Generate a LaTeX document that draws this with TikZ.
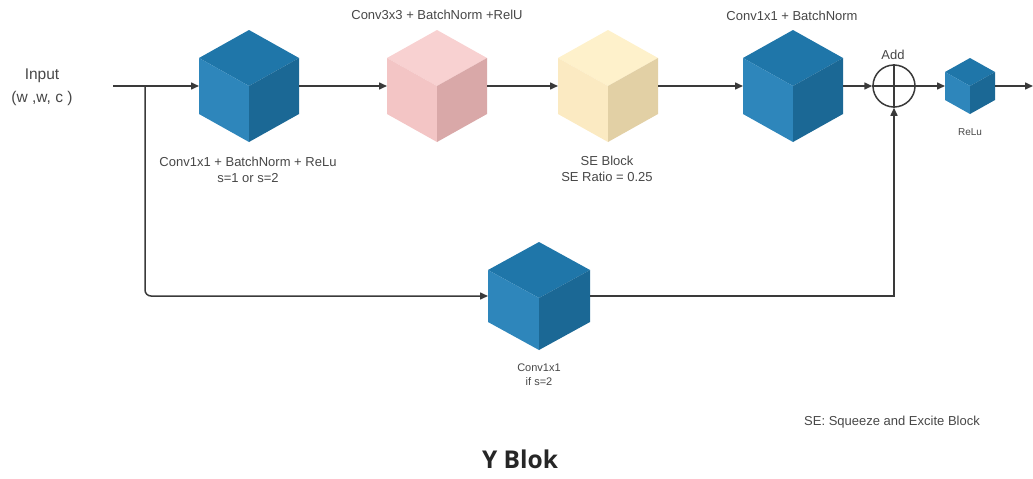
\documentclass[tikz,border=0pt]{standalone}
\usepackage{fontspec}
\setmainfont{Liberation Sans}
\newfontfamily\titlefont{Open Sans}
\usetikzlibrary{arrows.meta}

\definecolor{blueT}{HTML}{1F76A9}
\definecolor{blueL}{HTML}{2E86BB}
\definecolor{blueR}{HTML}{1B6895}
\definecolor{pinkT}{HTML}{F8D1D1}
\definecolor{pinkL}{HTML}{F3C5C5}
\definecolor{pinkR}{HTML}{D9A8A8}
\definecolor{yelT}{HTML}{FEF1CB}
\definecolor{yelL}{HTML}{FBEAC2}
\definecolor{yelR}{HTML}{E2D0A5}
\definecolor{wire}{HTML}{3A3A3A}
\definecolor{txt}{HTML}{474747}

% isometric cube: name, centre x, centre y, half width, half height, top-face half height, colour prefix
\newcommand\isocube[7]{%
  \node[cubebox, minimum width=#4*2pt, minimum height=#5*2pt] (#1) at (#2,#3) {};
  \fill[#7T] (#2,#3-#5) -- (#2+#4,#3-#5+#6) -- (#2,#3-#5+2*#6) -- (#2-#4,#3-#5+#6) -- cycle;
  \fill[#7L] (#2-#4,#3-#5+#6) -- (#2,#3-#5+2*#6) -- (#2,#3+#5) -- (#2-#4,#3+#5-#6) -- cycle;
  \fill[#7R] (#2+#4,#3-#5+#6) -- (#2,#3-#5+2*#6) -- (#2,#3+#5) -- (#2+#4,#3+#5-#6) -- cycle;
}

\tikzset{
  cubebox/.style={rectangle, inner sep=0pt, outer sep=0pt},
  wirestyle/.style={draw=wire, line width=1.5pt},
  flow/.style={wirestyle, -{Triangle[length=8pt,width=7pt]}},
  lbl/.style={text=txt, font=\fontsize{13}{16}\selectfont, align=center, inner sep=0pt},
}

\begin{document}
\begin{tikzpicture}[x=1pt, y=-1pt]
  \useasboundingbox (0,0) rectangle (1033,479);

  % blocks
  \isocube{c1}{249}{86}{50}{56}{28}{blue}
  \isocube{c2}{437}{86}{50}{56}{28}{pink}
  \isocube{c3}{608}{86}{50}{56}{28}{yel}
  \isocube{c4}{793}{86}{50}{56}{28}{blue}
  \isocube{c5}{970}{86}{25}{28}{14}{blue}
  \isocube{c6}{539}{296}{51}{54}{28}{blue}

  % adder
  \node[circle, draw=wire, line width=1.5pt, minimum size=42pt, inner sep=0pt] (add) at (894,86) {};
  \draw[wirestyle] (add.north) -- (add.south) (add.west) -- (add.east);

  % connection points
  \coordinate (in) at (113,86);
  \coordinate (split) at (145,86);
  \coordinate (out) at (1033,86);

  % main path
  \draw[flow] (in) -- (c1.west);
  \draw[flow] (c1.east) -- (c2.west);
  \draw[flow] (c2.east) -- (c3.west);
  \draw[flow] (c3.east) -- (c4.west);
  \draw[flow] (c4.east) -- (add.west);
  \draw[flow] (add.east) -- (c5.west);
  \draw[flow] (c5.east) -- (out);

  % shortcut path
  \draw[flow, rounded corners=6pt] (split) |- (c6.west);
  \draw[flow] (c6.east) -| (add.south);

  % labels
  \node[lbl, font=\fontsize{15.5}{23}\selectfont] at (42,87) {Input\\(w ,w, c )};
  \node[lbl] at (248,170) {Conv1x1 + BatchNorm + ReLu\\s=1 or s=2};
  \node[lbl] at (437,15) {Conv3x3 + BatchNorm +RelU};
  \node[lbl] at (607,169) {SE Block\\SE Ratio = 0.25};
  \node[lbl] at (792,16) {Conv1x1 + BatchNorm};
  \node[lbl] at (893,55) {Add};
  \node[lbl, font=\fontsize{10}{12}\selectfont] at (970,132) {ReLu};
  \node[lbl, font=\fontsize{11}{14}\selectfont] at (539,375) {Conv1x1\\if s=2};
  \node[lbl] at (892,422) {SE: Squeeze and Excite Block};
  \node[text=black!85, font=\titlefont\bfseries\fontsize{24.5}{28}\selectfont, inner sep=0pt] at (520,459) {Y Blok};
\end{tikzpicture}
\end{document}
